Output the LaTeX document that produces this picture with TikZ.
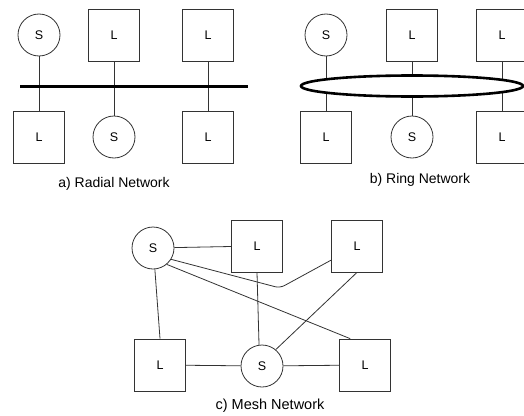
\documentclass[tikz,border=0pt]{standalone}
\usepackage{fontspec}
\setmainfont{Liberation Sans}
\usetikzlibrary{calc,shapes.geometric}
\begin{document}
\begin{tikzpicture}[x=1pt,y=-1pt,
  wire/.style={line width=0.8pt,draw=black!80},
  bus/.style={line width=3pt,draw=black},
  load/.style={draw=black!80,line width=0.8pt,fill=white,minimum width=51pt,minimum height=52pt,inner sep=0pt,font=\fontsize{12.5}{14}\selectfont},
  src/.style={circle,draw=black!80,line width=0.8pt,fill=white,minimum size=42pt,inner sep=0pt,font=\fontsize{12.5}{14}\selectfont},
  caption/.style={font=\fontsize{14}{16}\selectfont}]
\useasboundingbox (0,0) rectangle (524,415);
\clip (0,0) rectangle (524,415);

% a) radial network
\node[src]  (aS1) at (39,35)   {S};
\node[load] (aL1) at (114,35)  {L};
\node[load] (aL2) at (208,35)  {L};
\node[load] (aL3) at (39,137)  {L};
\node[src]  (aS2) at (114,137) {S};
\node[load] (aL4) at (208,137) {L};
\coordinate (aBusL) at (20,86);
\coordinate (aBusR) at (248,86);
\draw[wire] (aS1) -- (aL3);
\draw[wire] (aL1) -- (aS2);
\draw[wire] (aL2) -- (aL4);
\draw[bus] (aBusL) -- (aBusR);
\node[caption] (capA) at (114,184) {a) Radial Network};

% b) ring network
\node[src]  (bS1) at (326,35)  {S};
\node[load] (bL1) at (412,35)  {L};
\node[load] (bL2) at (502,35)  {L};
\node[load] (bL3) at (326,137) {L};
\node[src]  (bS2) at (412,137) {S};
\node[load] (bL4) at (502,137) {L};
\draw[wire] (bS1) -- (bL3);
\draw[wire] (bL1) -- (bS2);
\draw[wire] (bL2) -- (bL4);
\node[ellipse,draw=black,line width=2.6pt,fill=white,minimum width=222pt,minimum height=21pt,inner sep=0pt] (ring) at (412,86) {};
\node[caption] (capB) at (420,180) {b) Ring Network};

% c) mesh network
\node[src]  (cS1) at (153,248) {S};
\node[load] (cL1) at (257,246) {L};
\node[load] (cL2) at (357,246) {L};
\node[load] (cL3) at (160,365) {L};
\node[src]  (cS2) at (262,366) {S};
\node[load] (cL4) at (365,365) {L};
\coordinate (bend) at (280,288);
\draw[wire] (cS1) -- (cL1);
\draw[wire,rounded corners=5pt] (cS1.-32) -- (bend) -- (cL2);
\draw[wire] (cS1.-50) -- ($(cL4.north west)+(11,0)$);
\draw[wire] (cS1.-85) -- (cL3.north);
\draw[wire] (cL1.south) -- (cS2.98);
\draw[wire] (cL2.south) -- (cS2.50);
\draw[wire] (cL3) -- (cS2);
\draw[wire] (cS2) -- (cL4);
\node[caption,font=\fontsize{14.5}{16}\selectfont] (capC) at (270,406) {c) Mesh Network};
\end{tikzpicture}
\end{document}
